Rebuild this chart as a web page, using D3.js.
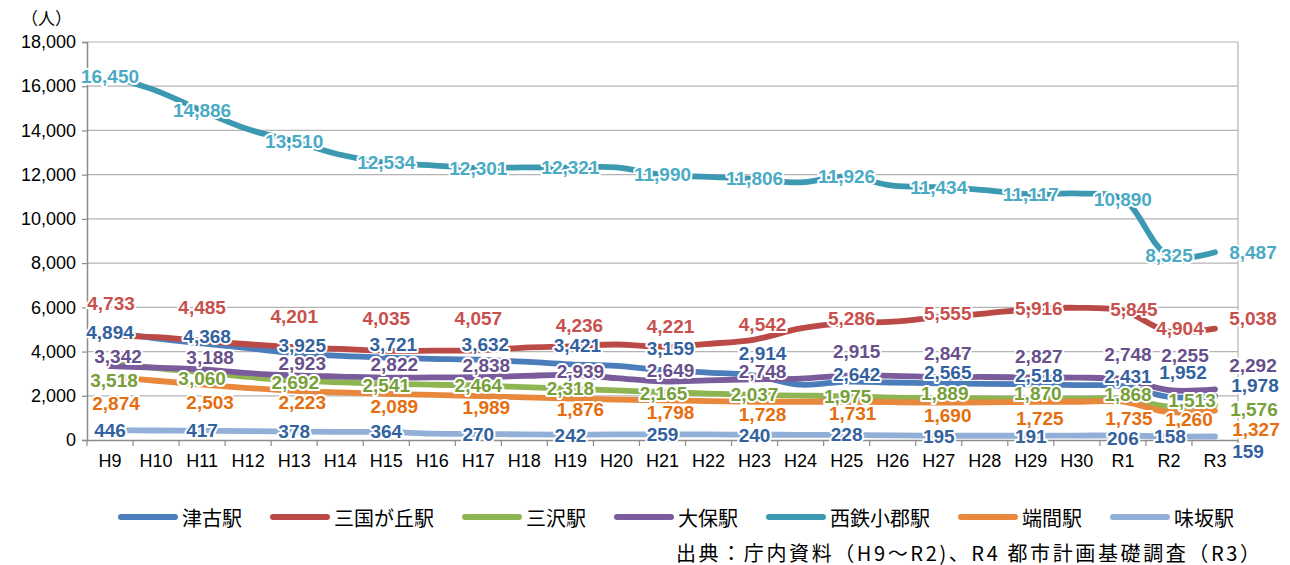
<!DOCTYPE html>
<html>
<head>
<meta charset="utf-8">
<script src="https://cdn.jsdelivr.net/npm/d3@7"></script>
<style>
  body { margin: 0; background: #fff; }
  svg { display: block; font-family: "Liberation Sans", Arial, sans-serif; }
</style>
</head>
<body>
<svg id="chart" width="1290" height="565"></svg>
<script>
const years = ["H9","H10","H11","H12","H13","H14","H15","H16","H17","H18","H19","H20",
  "H21","H22","H23","H24","H25","H26","H27","H28","H29","H30","R1","R2","R3"];

const tsuko      = [4894, 4600, 4368, 4150, 3925, 3800, 3721, 3670, 3632, 3540, 3421, 3350, 3159, 3050, 2914, 2500, 2642, 2600, 2565, 2540, 2518, 2480, 2431, 1952, 1978];
const mikuni     = [4733, 4650, 4485, 4330, 4201, 4120, 4035, 4040, 4057, 4180, 4236, 4320, 4221, 4350, 4542, 5050, 5286, 5350, 5555, 5720, 5916, 5980, 5845, 4904, 5038];
const misawa     = [3518, 3250, 3060, 2850, 2692, 2610, 2541, 2500, 2464, 2390, 2318, 2240, 2165, 2100, 2037, 2010, 1975, 1915, 1889, 1880, 1870, 1870, 1868, 1513, 1576];
const okubo      = [3342, 3270, 3188, 3020, 2923, 2870, 2822, 2830, 2838, 2900, 2939, 2800, 2649, 2700, 2748, 2780, 2915, 2900, 2847, 2850, 2827, 2820, 2748, 2255, 2292];
const nishitetsu = [16450, 15800, 14886, 14050, 13510, 12900, 12534, 12420, 12301, 12330, 12321, 12330, 11990, 11900, 11806, 11650, 11926, 11500, 11434, 11300, 11117, 11150, 10890, 8325, 8487];
const tanma      = [2874, 2680, 2503, 2350, 2223, 2150, 2089, 2040, 1989, 1930, 1876, 1830, 1798, 1760, 1728, 1730, 1731, 1710, 1690, 1700, 1725, 1730, 1735, 1260, 1327];
const ajisaka    = [446, 430, 417, 400, 378, 370, 364, 290, 270, 255, 242, 250, 259, 250, 240, 235, 228, 210, 195, 193, 191, 200, 206, 158, 159];

const seriesNames = ["津古駅", "三国が丘駅", "三沢駅", "大保駅", "西鉄小郡駅", "端間駅", "味坂駅"];
const labelledYears = ["H9","H11","H13","H15","H17","H19","H21","H23","H25","H27","H29","R1","R2","R3"];
const yTicks = [0, 2000, 4000, 6000, 8000, 10000, 12000, 14000, 16000, 18000];
const unitLabel = "（人）";
const sourceNote = "出典：庁内資料（H9～R2)、R4 都市計画基礎調査（R3）";

// styling / label placement (pixels, relative to the point)
const styles = [
  { values: tsuko,      line: "#4a7dba", text: "#33629e",
    off: [[0,1],[5,-7],[8,-8],[7,-13],[7,-15],[7,-19],[8,-22],[8,-22],[10,-7],[9,-11],[8,-9],[5,-10],[14,-24],[40,-11]] },
  { values: mikuni,     line: "#bb4a47", text: "#c8504d",
    off: [[1,-32],[0,-33],[0,-31],[0,-32],[0,-32],[9,-21],[8,-20],[8,-15],[5,-5],[9,-4],[8,-1],[11,-1],[11,-3],[38,-10]] },
  { values: misawa,     line: "#8fb553", text: "#77a03a",
    off: [[4,18],[0,6],[1,2],[0,2],[0,0],[0,0],[1,1],[0,0],[1,0],[6,-5],[7,-5],[5,-4],[23,-6],[39,4]] },
  { values: okubo,      line: "#7a5c9c", text: "#68508c",
    off: [[8,-10],[8,-12],[8,-12],[8,-13],[8,-12],[10,-4],[8,-11],[8,-8],[10,-24],[9,-24],[8,-21],[5,-25],[16,-35],[38,-24]] },
  { values: nishitetsu, line: "#3d98b2", text: "#4aabc5",
    off: [[0,0],[0,0],[0,0],[0,0],[0,0],[0,0],[0,0],[0,0],[0,0],[0,0],[0,0],[0,0],[0,0],[38,0]] },
  { values: tanma,      line: "#e8883c", text: "#e66e0e",
    off: [[6,27],[8,18],[8,12],[8,13],[8,11],[10,11],[8,12],[8,13],[6,12],[9,13],[9,17],[6,17],[20,7],[41,19]] },
  { values: ajisaka,    line: "#92afd8", text: "#33629e",
    off: [[0,0],[0,0],[0,0],[0,0],[0,0],[0,1],[0,0],[0,1],[0,0],[0,1],[0,1],[0,3],[1,0],[33,15]] }
];

const svg = d3.select("#chart");
const plotLeft = 87, plotRight = 1238, plotTop = 42, plotBottom = 440;

const x = d3.scaleBand().domain(years).range([plotLeft, plotRight]);
const cx = d => x(d) + x.bandwidth() / 2;
const y = d3.scaleLinear().domain([0, 18000]).range([plotBottom, plotTop]);
const fmt = d3.format(",");

// gridlines
svg.append("g")
  .selectAll("line")
  .data(yTicks.filter(t => t > 0))
  .join("line")
  .attr("x1", plotLeft).attr("x2", plotRight)
  .attr("y1", d => y(d)).attr("y2", d => y(d))
  .attr("stroke", "#b4b4b4").attr("stroke-width", 1.2);

// right border
svg.append("line")
  .attr("x1", plotRight).attr("x2", plotRight).attr("y1", plotTop).attr("y2", plotBottom)
  .attr("stroke", "#b4b4b4").attr("stroke-width", 1.2);

// y axis
const yAxis = svg.append("g")
  .attr("transform", `translate(${plotLeft},0)`)
  .call(d3.axisLeft(y).tickValues(yTicks).tickFormat(fmt).tickSize(5).tickPadding(6));
yAxis.select(".domain").attr("stroke", "#8c8c8c").attr("stroke-width", 1.5);
yAxis.selectAll(".tick line").attr("stroke", "#8c8c8c").attr("stroke-width", 1.2);
yAxis.selectAll("text").attr("font-size", 18).attr("fill", "#000")
  .attr("font-family", "'Liberation Sans', Arial, sans-serif");

// x axis
const xAxis = svg.append("g")
  .attr("transform", `translate(0,${plotBottom})`)
  .call(d3.axisBottom(x).tickSize(0).tickPadding(14));
xAxis.select(".domain").attr("stroke", "#8c8c8c").attr("stroke-width", 1.5);
xAxis.selectAll("text").attr("font-size", 18).attr("fill", "#000")
  .attr("font-family", "'Liberation Sans', Arial, sans-serif");
xAxis.selectAll("line.sep")
  .data(d3.range(years.length + 1))
  .join("line")
  .attr("class", "sep")
  .attr("x1", i => plotLeft + i * x.step()).attr("x2", i => plotLeft + i * x.step())
  .attr("y1", 0).attr("y2", 6)
  .attr("stroke", "#8c8c8c").attr("stroke-width", 1.2);

// unit
svg.append("text")
  .attr("x", 21).attr("y", 25)
  .attr("font-family", "'Noto Sans CJK JP', sans-serif")
  .attr("font-size", 17)
  .text(unitLabel);

// lines
const line = d3.line()
  .x((d, i) => cx(years[i]))
  .y(d => y(d))
  .curve(d3.curveCatmullRom.alpha(0.5));

svg.append("g")
  .selectAll("path")
  .data(styles)
  .join("path")
  .attr("d", s => line(s.values))
  .attr("fill", "none")
  .attr("stroke", s => s.line)
  .attr("stroke-width", 5.8)
  .attr("stroke-linecap", "round")
  .attr("stroke-linejoin", "round");

// data labels
const labels = svg.append("g")
  .attr("font-family", "'Liberation Sans', Arial, sans-serif")
  .attr("font-weight", "bold")
  .attr("font-size", 19);

styles.forEach(s => {
  labels.append("g")
    .selectAll("text")
    .data(labelledYears)
    .join("text")
    .attr("x", (yr, j) => cx(yr) + s.off[j][0])
    .attr("y", (yr, j) => y(s.values[years.indexOf(yr)]) + s.off[j][1])
    .attr("text-anchor", "middle")
    .attr("dominant-baseline", "central")
    .attr("fill", s.text)
    .attr("stroke", "#fff")
    .attr("stroke-width", 4)
    .attr("stroke-linejoin", "round")
    .attr("paint-order", "stroke")
    .text(yr => fmt(s.values[years.indexOf(yr)]));
});

// legend
const legend = svg.append("g")
  .attr("font-family", "'Noto Sans CJK JP', sans-serif")
  .attr("font-size", 20);
let lx = 121;
styles.forEach((s, i) => {
  const item = legend.append("g").attr("transform", `translate(${lx},517)`);
  item.append("line")
    .attr("x1", 0).attr("x2", 54).attr("y1", 0).attr("y2", 0)
    .attr("stroke", s.line).attr("stroke-width", 6).attr("stroke-linecap", "round");
  const t = item.append("text")
    .attr("x", 61).attr("y", 0)
    .attr("dominant-baseline", "central")
    .text(seriesNames[i]);
  lx += 61 + t.node().getComputedTextLength() + 31;
});

// source
svg.append("text")
  .attr("x", 676).attr("y", 552)
  .attr("dominant-baseline", "central")
  .attr("font-family", "'Noto Sans CJK JP', sans-serif")
  .attr("font-size", 20)
  .attr("textLength", 584)
  .attr("lengthAdjust", "spacing")
  .text(sourceNote);
</script>
</body>
</html>
